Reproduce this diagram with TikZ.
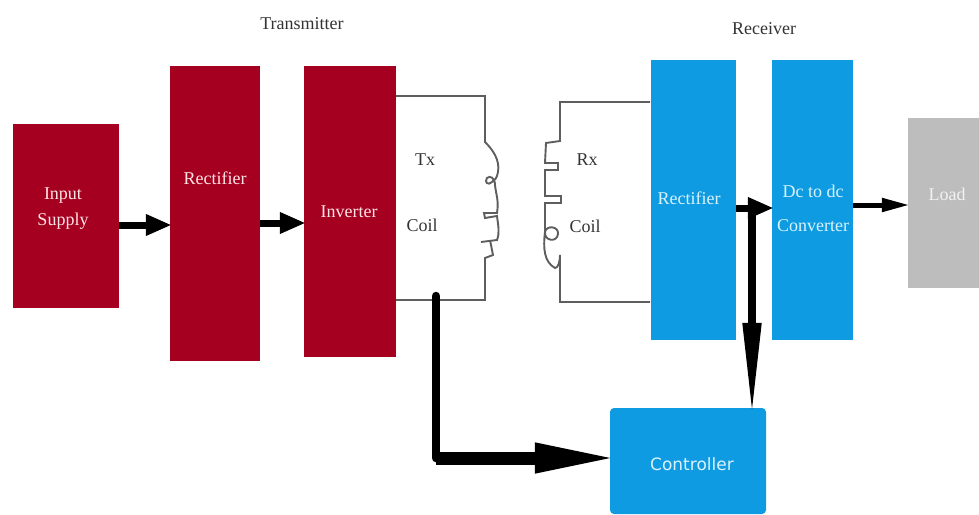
\documentclass[tikz,border=0pt]{standalone}
\usepackage{fontspec}
\setmainfont{Liberation Serif}
\setsansfont{DejaVu Sans}
\usetikzlibrary{arrows.meta}
\definecolor{redblock}{HTML}{A60021}
\definecolor{blueblock}{HTML}{0E9BE2}
\definecolor{greyblock}{HTML}{BDBDBD}
\definecolor{wire}{HTML}{5E5E5E}
\tikzset{
    redbox/.style={fill=redblock, text=white!90!red, inner sep=0pt, align=center},
    bluebox/.style={fill=blueblock, text=white!85!cyan, inner sep=0pt, align=center},
    label/.style={inner sep=0pt, text=black!80, align=center},
    link/.style={line width=7pt, shorten >=-2pt, -{Triangle[length=26pt, width=20pt]}},
    wiring/.style={draw=wire, line width=1.9pt},
    feed/.style={line width=13pt, shorten >=-10pt, -{Triangle[length=85pt, width=27pt]}},
}
\begin{document}
\begin{tikzpicture}[x=1pt, y=-1pt, font=\fontsize{18}{20}\selectfont]
\useasboundingbox (0,0) rectangle (979,514);
% blocks
\node[redbox, minimum width=106pt, minimum height=184pt] (supply) at (66,216) {};
\node[redbox] at (63,209) {Input\\[6pt]Supply};
\node[redbox, minimum width=90pt, minimum height=295pt] (rectT) at (215,213.5) {};
\node[redbox] at (215,178) {Rectifier};
\node[redbox, minimum width=92pt, minimum height=291pt] (inverter) at (350,211.5) {};
\node[redbox] at (349,212) {Inverter};
\node[bluebox, minimum width=85pt, minimum height=280pt] (rectR) at (693.5,200) {};
\node[bluebox] at (689,198) {Rectifier};
\node[bluebox, minimum width=81pt, minimum height=280pt] (dcdc) at (812.5,200) {};
\node[bluebox] at (813,208) {Dc to dc\\[14pt]Converter};
\node[fill=greyblock, text=white!90!gray, inner sep=0pt, minimum width=72pt, minimum height=170pt] (load) at (944,203) {};
\node[text=white!90!gray, inner sep=0pt] at (947,194) {Load};
\node[bluebox, rounded corners=4pt, minimum width=156pt, minimum height=106pt] (controller) at (688,461) {};
\node[bluebox, font=\sffamily\fontsize{17}{18}\selectfont] at (692,464) {Controller};
% titles
\node[label] (transmitter) at (302,24) {Transmitter};
\node[label] (receiver) at (764,29) {Receiver};
% Tx coil
\coordinate (txtop) at (396,96);
\coordinate (txbot) at (396,300);
\draw[wiring] (txtop)--(485,96)--(485,142)
    .. controls (493,150) and (500,160) .. (498,172)
    .. controls (497,178) and (495,180) .. (492,182)
    .. controls (488,186) and (484,182) .. (487,178)
    .. controls (490,175) and (495,178) .. (495,185)
    .. controls (496,195) and (499,200) .. (497,213)
    --(484,213)--(485,218)--(497,216)
    .. controls (498,225) and (500,232) .. (497,240)
    --(481,242)
    (490,240)--(493,255)--(485,258)--(485,300)--(txbot);
% Rx coil
\coordinate (rxtop) at (650,102);
\coordinate (rxbot) at (650,302);
\draw[wiring] (rxtop)--(560,102)--(560,141)--(546,143)--(545,163)--(558,163)--(558,170)--(545,170)
    --(545,196)--(561,196)--(561,203)--(545,203)--(545,232)
    .. controls (546,225) and (559,226) .. (558,234)
    .. controls (557,243) and (544,241) .. (545,232)
    .. controls (543,248) and (544,262) .. (555,268)
    .. controls (558,268) and (560,262) .. (560,255)--(560,302)--(rxbot);
\node[label] (txname) at (425,160) {Tx};
\node[label] (txcoil) at (422,225) {Coil};
\node[label] (rxname) at (587,160) {Rx};
\node[label] (rxcoil) at (585,226) {Coil};
% links
\draw[link] (supply.east|-0,225)--(rectT.west|-0,225);
\draw[link] (rectT.east|-0,223)--(inverter.west|-0,223);
\draw[link] (rectR.east|-0,208)--(dcdc.west|-0,208);
\draw[line width=5pt, shorten >=-2pt, -{Triangle[length=28pt, width=13pt]}] (dcdc.east|-0,205)--(load.west|-0,205);
\coordinate (junction) at (752,208);
\coordinate (tap) at (436,296);
\coordinate (corner) at (436,458);
\draw[line width=8pt, shorten >=-11pt, -{Triangle[length=96pt, width=17pt]}] (junction)--(junction|-controller.north);
\draw[line width=8.5pt, line cap=round] (tap)--(corner);
\draw[feed] (corner)--(controller.west|-corner);
\end{tikzpicture}
\end{document}
